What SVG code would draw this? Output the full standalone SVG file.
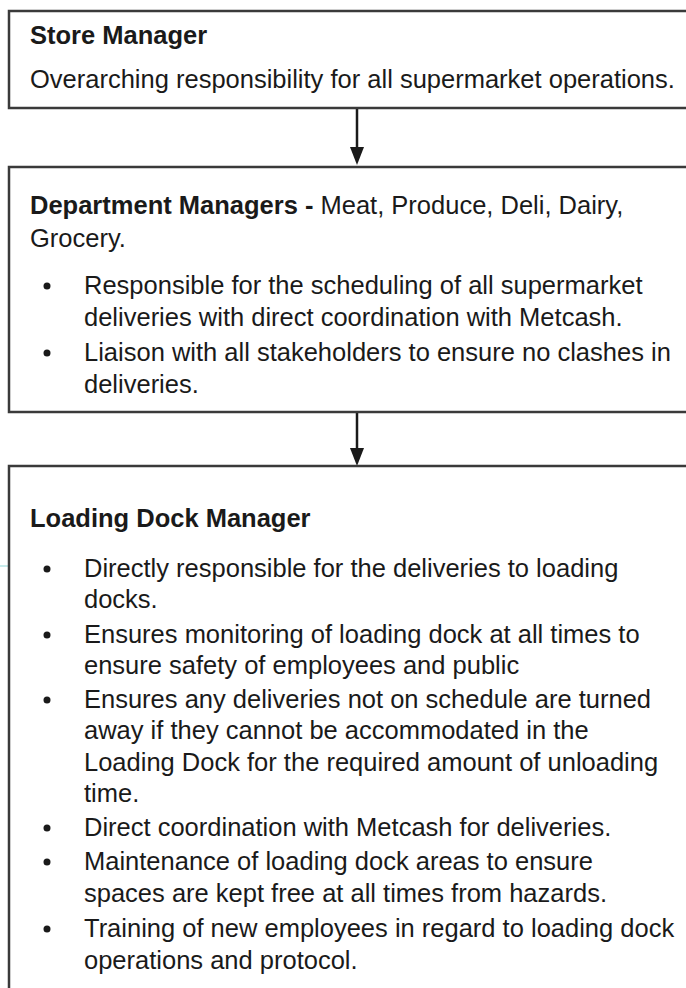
<svg xmlns="http://www.w3.org/2000/svg" width="686" height="988" viewBox="0 0 686 988">
<style>
.box{fill:#ffffff;stroke:#3a3a3a;stroke-width:2.5}
text{font-family:"Liberation Sans",Arial,sans-serif;font-size:25.5px;fill:#1a1a1a}
.b{font-weight:bold}
.dot{fill:#1a1a1a}
.conn{stroke:#1a1a1a;stroke-width:2.5;fill:none}
</style>
<defs>
<marker id="arr" markerWidth="8" markerHeight="8" refX="7" refY="4" orient="auto" markerUnits="userSpaceOnUse" viewBox="0 0 8 8">
<path d="M0,0 L8,4 L0,8 Z" fill="#1a1a1a"/>
</marker>
</defs>
<rect width="686" height="988" fill="#ffffff"/>
<line x1="0" y1="566" x2="50" y2="566" stroke="#8fd8d8" stroke-width="1.2"/>
<g id="connectors">
<line class="conn" x1="357" y1="109" x2="357" y2="149"/>
<path d="M350,147 L364,147 L357,165 Z" fill="#1a1a1a"/>
<line class="conn" x1="357" y1="413" x2="357" y2="450"/>
<path d="M350,448 L364,448 L357,466 Z" fill="#1a1a1a"/>
</g>
<g id="store-manager">
<rect class="box" x="9" y="11" width="700" height="97"/>
<text class="b" x="30" y="44">Store Manager</text>
<text x="30" y="88">Overarching responsibility for all supermarket operations.</text>
</g>
<g id="department-managers">
<rect class="box" x="9" y="167" width="700" height="245"/>
<text x="30" y="214"><tspan class="b">Department Managers - </tspan>Meat, Produce, Deli, Dairy,</text>
<text x="30" y="247">Grocery.</text>
<circle class="dot" cx="47" cy="286" r="3.5"/>
<text x="84" y="294">Responsible for the scheduling of all supermarket</text>
<text x="84" y="326">deliveries with direct coordination with Metcash.</text>
<circle class="dot" cx="47" cy="353" r="3.5"/>
<text x="84" y="361">Liaison with all stakeholders to ensure no clashes in</text>
<text x="84" y="393">deliveries.</text>
</g>
<g id="loading-dock-manager">
<rect class="box" x="9" y="466" width="700" height="540"/>
<text class="b" x="30" y="527">Loading Dock Manager</text>
<circle class="dot" cx="47" cy="569" r="3.5"/>
<text x="84" y="577">Directly responsible for the deliveries to loading</text>
<text x="84" y="608">docks.</text>
<circle class="dot" cx="47" cy="635" r="3.5"/>
<text x="84" y="643">Ensures monitoring of loading dock at all times to</text>
<text x="84" y="674">ensure safety of employees and public</text>
<circle class="dot" cx="47" cy="700" r="3.5"/>
<text x="84" y="708">Ensures any deliveries not on schedule are turned</text>
<text x="84" y="739">away if they cannot be accommodated in the</text>
<text x="84" y="771">Loading Dock for the required amount of unloading</text>
<text x="84" y="802">time.</text>
<circle class="dot" cx="47" cy="828" r="3.5"/>
<text x="84" y="836">Direct coordination with Metcash for deliveries.</text>
<circle class="dot" cx="47" cy="862" r="3.5"/>
<text x="84" y="870">Maintenance of loading dock areas to ensure</text>
<text x="84" y="902">spaces are kept free at all times from hazards.</text>
<circle class="dot" cx="47" cy="929" r="3.5"/>
<text x="84" y="937">Training of new employees in regard to loading dock</text>
<text x="84" y="969">operations and protocol.</text>
</g>
</svg>
